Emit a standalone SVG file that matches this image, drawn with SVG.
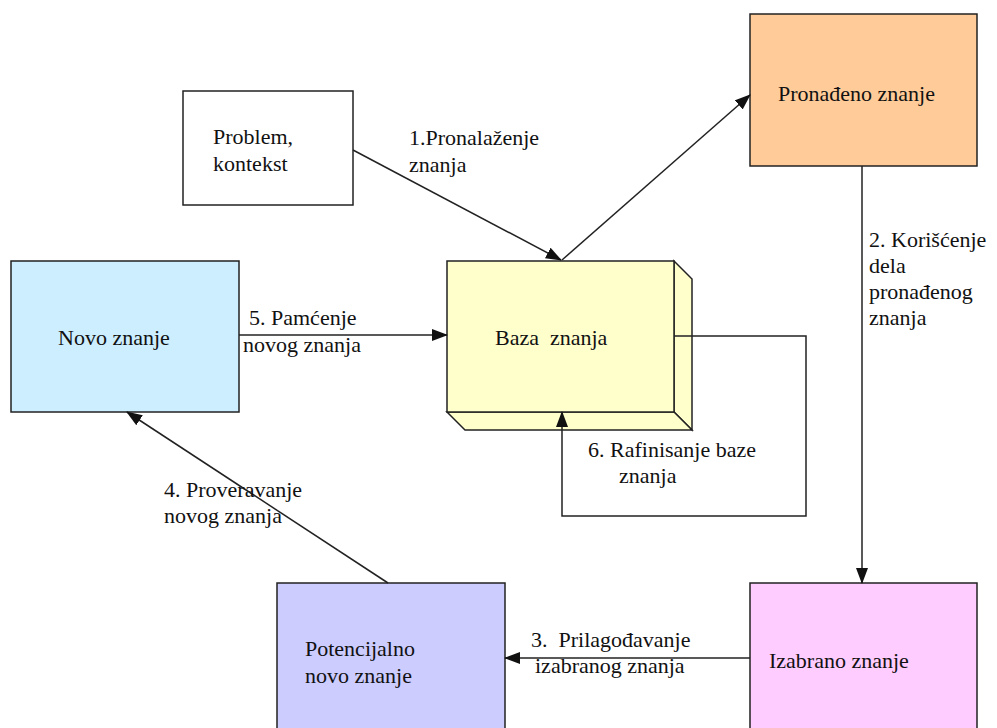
<svg xmlns="http://www.w3.org/2000/svg" width="997" height="728" viewBox="0 0 997 728">
<style>
text{font-family:'Liberation Serif','Noto Serif','DejaVu Serif',Times,serif;font-size:22px;fill:#111;}
.box{stroke:#222;stroke-width:1.5;}
.ln{stroke:#222;stroke-width:1.5;fill:none;}
</style>
<defs>
<marker id="ah" markerWidth="16" markerHeight="12" refX="15" refY="6" orient="auto" markerUnits="userSpaceOnUse">
<path d="M0,0 L16,6 L0,12 Z" fill="#111"/>
</marker>
</defs>
<rect width="997" height="728" fill="#fff"/>
<g id="problem">
<rect class="box" x="183" y="91" width="170" height="114" fill="#fff"/>
<text x="213" y="144">Problem,</text>
<text x="213" y="171">kontekst</text>
</g>
<g id="pronadjeno">
<rect class="box" x="750" y="14" width="227" height="152" fill="#ffcc99"/>
<text x="778" y="101">Pronađeno znanje</text>
</g>
<g id="novo">
<rect class="box" x="11" y="261" width="228" height="151" fill="#cceeff"/>
<text x="58" y="345">Novo znanje</text>
</g>
<g id="baza">
<polygon class="box" points="674,261 692,279 692,430 674,412" fill="#ffffcc"/>
<polygon class="box" points="447,412 674,412 692,430 465,430" fill="#ffffcc"/>
<rect class="box" x="447" y="261" width="227" height="151" fill="#ffffcc"/>
<text x="495" y="345" xml:space="preserve">Baza  znanja</text>
</g>
<g id="potencijalno">
<rect class="box" x="277" y="583" width="228" height="160" fill="#ccccff"/>
<text x="305" y="656">Potencijalno</text>
<text x="305" y="683">novo znanje</text>
</g>
<g id="izabrano">
<rect class="box" x="750" y="583" width="227" height="160" fill="#ffccff"/>
<text x="769" y="668">Izabrano znanje</text>
</g>
<g id="connectors">
<line class="ln" x1="353" y1="150" x2="561" y2="260" marker-end="url(#ah)"/>
<line class="ln" x1="562" y1="260" x2="750" y2="95" marker-end="url(#ah)"/>
<line class="ln" x1="862" y1="166" x2="862" y2="583" marker-end="url(#ah)"/>
<line class="ln" x1="750" y1="658" x2="505" y2="658" marker-end="url(#ah)"/>
<line class="ln" x1="388" y1="583" x2="127" y2="412" marker-end="url(#ah)"/>
<line class="ln" x1="239" y1="335" x2="447" y2="335" marker-end="url(#ah)"/>
<polyline class="ln" points="674,336 806,336 806,516 562,516 562,412" marker-end="url(#ah)"/>
</g>
<g id="labels">
<text x="409" y="145">1.Pronalaženje</text>
<text x="409" y="172">znanja</text>
<text x="869" y="247">2. Korišćenje</text>
<text x="869" y="273">dela</text>
<text x="869" y="299">pronađenog</text>
<text x="869" y="325">znanja</text>
<text x="531" y="647" xml:space="preserve">3.  Prilagođavanje</text>
<text x="535" y="673">izabranog znanja</text>
<text x="164" y="497">4. Proveravanje</text>
<text x="164" y="523">novog znanja</text>
<text x="249" y="325">5. Pamćenje</text>
<text x="243" y="352">novog znanja</text>
<text x="588" y="457">6. Rafinisanje baze</text>
<text x="619" y="483">znanja</text>
</g>
</svg>
